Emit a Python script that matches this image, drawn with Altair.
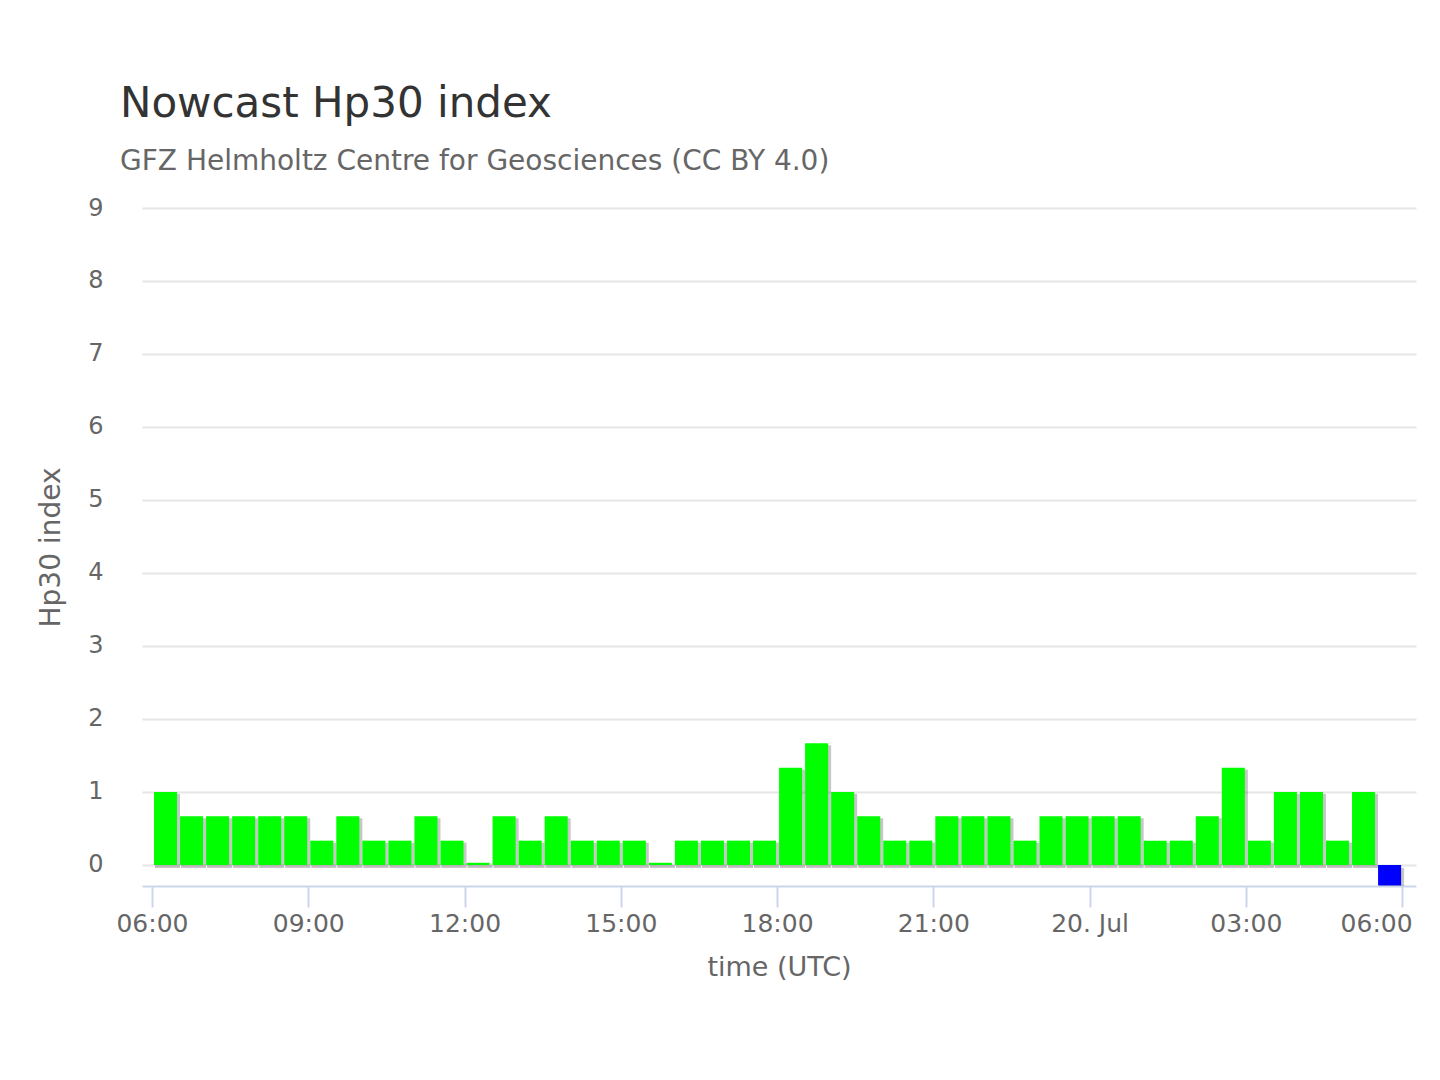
import altair as alt
import pandas as pd

# ---- data ----
hp30 = [1.0, 0.667, 0.667, 0.667, 0.667, 0.667, 0.333, 0.667, 0.333, 0.333,
        0.667, 0.333, 0.03, 0.667, 0.333, 0.667, 0.333, 0.333, 0.333, 0.03,
        0.333, 0.333, 0.333, 0.333, 1.333, 1.667, 1.0, 0.667, 0.333, 0.333,
        0.667, 0.667, 0.667, 0.333, 0.667, 0.667, 0.667, 0.667, 0.333, 0.333,
        0.667, 1.333, 0.333, 1.0, 1.0, 0.333, 1.0, -0.28]
start = pd.Timestamp("2025-07-19 06:00", tz="UTC")
slot_start = pd.date_range(start, periods=len(hp30), freq="30min")
slot_end = slot_start + pd.Timedelta(minutes=30)
tick_times = pd.date_range(start, periods=9, freq="3h")
y_ticks = [0, 1, 2, 3, 4, 5, 6, 7, 8, 9]

def ms(t):
    return int(t.timestamp() * 1000)

df = pd.DataFrame({
    "t0": [ms(t) for t in slot_start],
    "t1": [ms(t) for t in slot_end],
    "hp30": hp30,
})

x_domain = [ms(start - pd.Timedelta(minutes=11.5)), ms(start + pd.Timedelta(hours=24, minutes=16))]
FONT = "DejaVu Sans"

xscale = alt.Scale(type="utc", domain=x_domain, nice=False, padding=0)
yscale = alt.Scale(domain=[-0.288, 9], nice=False, zero=False, padding=0)

x_axis = alt.Axis(
    title="time (UTC)",
    values=[ms(t) for t in tick_times],
    labelExpr="utchours(datum.value) == 0 ? utcFormat(datum.value, '%d. %b') : utcFormat(datum.value, '%H:%M')",
    grid=False,
    domainColor="#ccd6eb", domainWidth=2,
    tickColor="#ccd6eb", tickWidth=2, tickSize=21,
    labelFont=FONT, labelFontSize=25, labelColor="#666666", labelPadding=4,
    labelOverlap=False, labelFlush=False,
    labelOffset={"condition": {"test": "datum.index == 1", "value": -26}, "value": 0},
    titleFont=FONT, titleFontSize=27, titleColor="#666666", titleFontWeight="normal",
    titlePadding=18,
)
y_axis = alt.Axis(
    title="Hp30 index",
    values=y_ticks,
    grid=True, gridColor="#e6e6e6", gridWidth=2,
    domain=False, ticks=False, tickSize=0,
    labelFont=FONT, labelFontSize=24, labelColor="#666666", labelPadding=39,
    titleFont=FONT, titleFontSize=28, titleColor="#666666", titleFontWeight="normal",
    titlePadding=22,
)

base = alt.Chart(df)

shadow = base.mark_bar(color="#000000", opacity=0.22, xOffset=3, x2Offset=2,
                       yOffset=2, y2Offset=3, clip=True).encode(
    x=alt.X("t0:T", scale=xscale, axis=x_axis),
    x2="t1:T",
    y=alt.Y("hp30:Q", scale=yscale, axis=y_axis),
    y2=alt.datum(0),
)

bars = base.mark_bar(xOffset=2, x2Offset=-1).encode(
    x=alt.X("t0:T", scale=xscale, axis=x_axis),
    x2="t1:T",
    y=alt.Y("hp30:Q", scale=yscale, axis=y_axis),
    y2=alt.datum(0),
    color=alt.condition(alt.datum.hp30 < 0, alt.value("#0000ff"), alt.value("#00ff00")),
)

chart = alt.layer(shadow, bars).properties(
    width=1274,
    height=678,
    autosize=alt.AutoSizeParams(type="none"),
    padding={"left": 134, "top": 200, "right": 8, "bottom": 170},
    background="white",
    title=alt.TitleParams(
        text="Nowcast Hp30 index",
        subtitle="GFZ Helmholtz Centre for Geosciences (CC BY 4.0)",
        anchor="start", frame="group", dx=-22, offset=19,
        font=FONT, fontSize=42, fontWeight="normal", color="#333333",
        subtitleFont=FONT, subtitleFontSize=28, subtitleColor="#666666",
        subtitlePadding=22,
    ),
).configure_view(stroke=None)

chart.save("out.html", embed_options={"renderer": "svg", "actions": False})
